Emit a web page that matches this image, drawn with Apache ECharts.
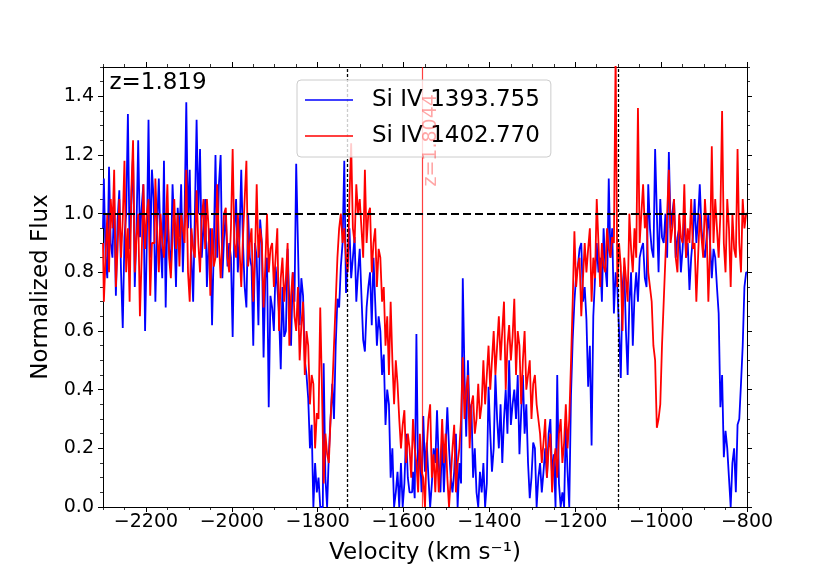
<!DOCTYPE html>
<html>
<head>
<meta charset="utf-8">
<script src="https://cdn.jsdelivr.net/npm/echarts@6/dist/echarts.min.js"></script>
<style>
html,body{margin:0;padding:0;background:#fff;}
#chart{width:830px;height:570px;}
</style>
</head>
<body>
<div id="chart"></div>
<script>
// velocity grid of the spectrum (km/s)
const velStart = -2300;
const velStep = 4;

// Si IV 1393.755 normalized flux
const fluxSi1393 = [
  0.95, 1.12, 0.85, 0.78, 1.16, 0.9, 0.85, 1.05, 0.72, 0.98, 1.08, 0.8, 0.61, 0.92, 1.0,
  1.34, 0.88, 1.05, 1.2, 0.75, 0.95, 1.25, 0.92, 1.02, 1.1, 0.6, 0.9, 1.32, 0.85, 1.15,
  1.05, 0.7, 0.95, 1.12, 0.9, 0.78, 1.18, 0.68, 1.0, 0.88, 0.82, 1.1, 0.95, 0.75, 1.02,
  0.92, 1.1, 0.8, 1.0, 1.38, 0.95, 1.15, 0.85, 0.7, 1.0, 1.32, 1.0, 1.22, 0.85, 0.95,
  1.05, 0.75, 0.9, 0.95, 0.62, 0.88, 1.2, 0.85, 1.1, 1.2, 0.78, 0.92, 1.0, 0.82, 0.9,
  0.85, 0.58, 0.95, 1.05, 0.8, 0.92, 1.15, 0.9, 0.75, 0.68, 1.0, 0.85, 0.82, 0.55, 0.9,
  0.85, 0.62, 0.98, 0.9, 0.51, 0.78, 0.85, 0.34, 0.72, 0.68, 0.6, 0.82, 0.75, 0.66, 0.47,
  0.75, 0.58, 0.6, 0.88, 0.7, 0.55, 0.8, 0.7, 1.17, 0.9, 0.62, 0.78, 0.72, 0.5, 0.45,
  0.37, 0.2, 0.28, 0.0, 0.15, 0.05, 0.1, 0.0, 0.0, 0.49, 0.1, 0.0, 0.18, 0.3, 0.42,
  0.3, 0.55, 0.71, 0.68, 0.82, 0.9, 1.18, 0.73, 0.85, 0.95, 0.78, 0.85, 0.92, 0.7, 0.8,
  0.88, 0.72, 0.57, 0.53, 0.68, 0.75, 0.8, 0.62, 0.85, 0.7, 0.55, 0.65, 0.6, 0.45, 0.52,
  0.28, 0.4, 0.35, 0.1, 0.2, 0.0, 0.05, 0.12, 0.0, 0.15, 0.0, 0.08, 0.25, 0.1, 0.05,
  0.05, 0.12, 0.03, 0.59, 0.1, 0.2, 0.05, 0.31, 0.12, 0.22, 0.1, 0.0, 0.08, 0.2, 0.15,
  0.33, 0.15, 0.05, 0.25, 0.05, 0.2, 0.34, 0.2, 0.1, 0.05, 0.12, 0.25, 0.0, 0.15, 0.08,
  0.78, 0.45, 0.24, 0.5, 0.3, 0.35, 0.1, 0.2, 0.05, 0.0, 0.12, 0.05, 0.15, 0.0, 0.08,
  0.41, 0.25, 0.12, 0.2, 0.45, 0.3, 0.2, 0.35, 0.15, 0.3, 0.4, 0.25, 0.5, 0.28, 0.35,
  0.4, 0.3, 0.45, 0.18, 0.32, 0.45, 0.25, 0.35, 0.15, 0.03, 0.1, 0.22, 0.2, 0.0, 0.1,
  0.15, 0.05, 0.12, 0.2, 0.1, 0.25, 0.3, 0.1, 0.18, 0.0, 0.45, 0.08, 0.0, 0.05, 0.0,
  0.28, 0.12, 0.0, 0.38, 0.57, 0.7, 0.79, 0.82, 0.88, 0.9, 0.7, 0.75, 0.64, 0.41, 0.55,
  0.21, 0.65, 0.78, 0.9, 0.8, 0.85, 0.7, 0.95, 0.82, 0.75, 1.12, 0.85, 0.95, 0.66, 0.8,
  0.75, 0.6, 0.44, 0.75, 0.82, 0.6, 0.45, 0.7, 0.8, 0.55, 0.72, 0.8, 0.7, 0.85, 0.88,
  0.9, 0.78, 0.75, 1.1, 0.95, 0.88, 0.85, 1.22, 1.0, 0.8, 1.05, 0.92, 0.9, 1.0, 0.85,
  1.21, 0.95, 1.0, 1.05, 0.85, 0.92, 0.95, 0.8, 0.88, 1.0, 0.85, 0.9, 0.74, 0.85, 0.92,
  1.05, 0.9, 0.98, 1.1, 0.95, 0.88, 0.85, 0.92, 1.0, 0.9, 0.78, 0.88, 0.85, 0.75, 0.66,
  0.34, 0.45, 0.17, 0.26, 0.2, 0.1, 0.0, 0.15, 0.2, 0.05, 0.28, 0.3, 0.42, 0.55, 0.75,
  0.8
];

// Si IV 1402.770 normalized flux
const fluxSi1402 = [
  0.9, 0.7, 0.85, 1.0, 0.8, 1.05, 0.95, 1.15, 0.75, 0.88, 1.05, 0.85, 0.98, 1.18, 0.8,
  0.95, 0.7, 1.08, 1.25, 0.8, 0.92, 1.0, 0.65, 0.85, 1.1, 0.88, 1.0, 1.05, 0.72, 0.9,
  0.9, 1.12, 0.95, 0.8, 1.0, 0.9, 0.85, 0.95, 1.1, 0.85, 0.78, 0.92, 1.05, 0.88, 1.0,
  0.82, 1.0, 0.95, 0.9, 1.15, 0.8, 0.7, 0.95, 0.88, 0.85, 1.08, 0.9, 0.8, 0.98, 1.05,
  0.88, 1.05, 0.95, 0.72, 0.95, 0.82, 0.85, 1.1, 0.9, 0.78, 0.9, 1.0, 1.02, 0.85, 0.8,
  0.95, 1.22, 0.9, 0.85, 1.0, 0.88, 0.75, 0.92, 1.05, 1.18, 0.82, 0.9, 0.95, 0.7, 0.85,
  1.1, 0.85, 0.95, 0.9, 0.68, 0.82, 1.0, 0.8, 0.88, 0.9, 0.75, 0.85, 0.95, 0.6, 0.78,
  0.85, 0.7, 0.78, 0.9, 0.55, 0.72, 0.8, 0.65, 0.6, 0.75, 0.5, 0.62, 0.7, 0.45, 0.6,
  0.55, 0.35, 0.45, 0.42, 0.2, 0.32, 0.3, 0.68, 0.4, 0.08, 0.25, 0.18, 0.15, 0.3, 0.4,
  0.55, 0.7, 0.85, 0.95, 1.0, 0.9, 0.95, 0.85, 0.8, 1.05, 1.24, 0.95, 0.9, 1.1, 1.0,
  1.05, 0.95, 0.85, 1.15, 0.9, 1.0, 1.02, 0.8, 0.9, 0.95, 0.75, 0.88, 0.85, 0.7, 0.75,
  0.55, 0.65, 0.45, 0.7, 0.5, 0.35, 0.5, 0.42, 0.3, 0.2, 0.28, 0.33, 0.15, 0.25, 0.2,
  0.1, 0.3, 0.2, 0.15, 0.05, 0.25, 0.12, 0.1, 0.0, 0.2, 0.3, 0.35, 0.1, 0.18, 0.05,
  0.2, 0.05, 0.15, 0.3, 0.15, 0.25, 0.1, 0.0, 0.1, 0.2, 0.28, 0.05, 0.15, 0.2, 0.3,
  0.51, 0.3, 0.4, 0.45, 0.2, 0.35, 0.38, 0.25, 0.3, 0.42, 0.3, 0.35, 0.5, 0.35, 0.45,
  0.55, 0.4, 0.5, 0.6, 0.45, 0.55, 0.65, 0.5, 0.6, 0.7, 0.4, 0.55, 0.62, 0.5, 0.58,
  0.71, 0.45, 0.6, 0.55, 0.35, 0.5, 0.6, 0.4, 0.45, 0.5, 0.3, 0.42, 0.45, 0.35, 0.3,
  0.25, 0.15, 0.22, 0.3, 0.1, 0.2, 0.25, 0.05, 0.15, 0.2, 0.1, 0.25, 0.3, 0.15, 0.22,
  0.35, 0.2, 0.3, 0.49, 0.7, 0.94, 0.75, 0.82, 0.85, 0.65, 0.78, 0.9, 0.8, 0.88, 0.95,
  0.7, 0.85, 0.78, 1.05, 0.9, 0.75, 0.9, 0.82, 0.8, 0.95, 0.88, 0.85, 0.92, 0.9, 1.55,
  0.75, 0.9, 0.82, 0.6, 0.85, 0.78, 0.7, 1.0, 0.88, 0.8, 0.95, 0.85, 1.36, 0.9, 1.0,
  1.1, 0.95, 1.0, 0.8, 0.75, 0.7, 0.55, 0.5, 0.27, 0.3, 0.35, 0.55, 0.7, 0.85, 1.0,
  1.15, 0.9, 0.95, 1.05, 0.85, 0.8, 1.0, 0.92, 0.9, 1.1, 0.85, 0.95, 0.9, 1.05, 0.88,
  0.9, 0.7, 0.85, 1.0, 0.92, 0.85, 1.05, 0.95, 0.7, 0.88, 1.23, 0.9, 1.05, 0.95, 0.85,
  1.0, 1.35, 0.9, 0.8, 1.05, 0.95, 0.75, 1.0, 0.88, 0.85, 1.22, 0.9, 0.8, 1.05, 0.95,
  1.0
];

const seriesNames = ['Si IV 1393.755', 'Si IV 1402.770'];
const xTicks = [-2200, -2000, -1800, -1600, -1400, -1200, -1000, -800];
const yTicks = [0.0, 0.2, 0.4, 0.6, 0.8, 1.0, 1.2, 1.4];
const xRange = [-2300, -800];
const yRange = [0, 1.5];
const componentVel = [-1732, -1100];   // dotted component markers
const zMarkVel = -1557;                // red marker line
const zMarkLabel = 'z=1.8044';
const systemLabel = 'z=1.819';
const continuumLevel = 1.0;

function toPairs(arr) {
  return arr.map((v, i) => [velStart + i * velStep, v]);
}

const FONT = 'DejaVu Sans';
const chart = echarts.init(document.getElementById('chart'), null, {renderer: 'canvas'});

function majorX(pos, show) {
  return {
    type: 'value', min: xRange[0], max: xRange[1], position: pos,
    axisLine: {show: true, onZero: false, lineStyle: {color: '#000', width: 1}},
    axisTick: {show: true, customValues: xTicks, length: 5, lineStyle: {color: '#000', width: 1}},
    axisLabel: {show: show, customValues: xTicks, color: '#000', fontSize: 19, fontFamily: FONT, margin: 6,
      formatter: v => String(v).replace('-', '\u2212')},
    splitLine: {show: false}
  };
}
function minorX(pos) {
  return {
    type: 'value', min: xRange[0], max: xRange[1], interval: 50, position: pos,
    axisLine: {show: false, onZero: false},
    axisTick: {show: true, length: 3, lineStyle: {color: '#000', width: 0.8}},
    axisLabel: {show: false}, splitLine: {show: false}
  };
}
function majorY(pos, show) {
  return {
    type: 'value', min: yRange[0], max: yRange[1], position: pos,
    axisLine: {show: true, onZero: false, lineStyle: {color: '#000', width: 1}},
    axisTick: {show: true, customValues: yTicks, length: 5, lineStyle: {color: '#000', width: 1}},
    axisLabel: {show: show, customValues: yTicks, color: '#000', fontSize: 19, fontFamily: FONT, margin: 9,
      formatter: v => v.toFixed(1)},
    splitLine: {show: false}
  };
}
function minorY(pos) {
  return {
    type: 'value', min: yRange[0], max: yRange[1], interval: 0.05, position: pos,
    axisLine: {show: false, onZero: false},
    axisTick: {show: true, length: 3, lineStyle: {color: '#000', width: 0.8}},
    axisLabel: {show: false}, splitLine: {show: false}
  };
}

const xMain = majorX('bottom', true);
xMain.name = 'Velocity (km s\u207B\u00B9)';
xMain.nameLocation = 'middle';
xMain.nameGap = 35;
xMain.nameTextStyle = {color: '#000', fontSize: 23, fontFamily: FONT};

const yMain = majorY('left', true);
yMain.name = 'Normalized Flux';
yMain.nameLocation = 'middle';
yMain.nameGap = 50;
yMain.nameTextStyle = {color: '#000', fontSize: 23, fontFamily: FONT};

const option = {
  animation: false,
  backgroundColor: '#fff',
  grid: {left: 103, right: 83, top: 67, bottom: 62, containLabel: false},
  xAxis: [xMain, minorX('bottom'), majorX('top', false), minorX('top')],
  yAxis: [yMain, minorY('left'), majorY('right', false), minorY('right')],
  legend: {
    orient: 'vertical', left: 297, top: 80, z: 20,
    padding: [7, 11, 8, 8], itemGap: 10, itemWidth: 48, itemHeight: 1.6,
    backgroundColor: 'rgba(255,255,255,0.8)', borderColor: '#cccccc', borderWidth: 1, borderRadius: 4,
    textStyle: {color: '#000', fontSize: 23, fontFamily: FONT, lineHeight: 26, padding: [0, 0, 0, 14]},
    data: [{name: seriesNames[0], icon: 'rect'}, {name: seriesNames[1], icon: 'rect'}]
  },
  series: [
    {
      name: seriesNames[0], type: 'line', step: 'middle', showSymbol: false, symbol: 'none',
      color: '#0000ff', lineStyle: {color: '#0000ff', width: 1.8}, clip: true, z: 2,
      xAxisIndex: 0, yAxisIndex: 0, data: toPairs(fluxSi1393)
    },
    {
      name: seriesNames[1], type: 'line', step: 'middle', showSymbol: false, symbol: 'none',
      color: '#ff0000', lineStyle: {color: '#ff0000', width: 1.8}, clip: true, z: 3,
      xAxisIndex: 0, yAxisIndex: 0, data: toPairs(fluxSi1402)
    },
    {
      name: 'markers', type: 'line', data: [], z: 4, xAxisIndex: 0, yAxisIndex: 0,
      markLine: {
        silent: true, symbol: ['none', 'none'], label: {show: false}, animation: false,
        data: [
          {xAxis: zMarkVel, lineStyle: {color: 'rgba(255,0,0,0.75)', width: 1.2, type: 'solid'}},
          {xAxis: componentVel[0], lineStyle: {color: '#000', width: 1.3, type: [3, 2]}},
          {xAxis: componentVel[1], lineStyle: {color: '#000', width: 1.3, type: [3, 2]}},
          {yAxis: continuumLevel, lineStyle: {color: '#000', width: 2, type: [8, 4]}}
        ]
      }
    }
  ]
};
chart.setOption(option);

const zPos = chart.convertToPixel({xAxisIndex: 0, yAxisIndex: 0}, [zMarkVel + 22, 1.25]);
const sysPos = chart.convertToPixel({xAxisIndex: 0, yAxisIndex: 0}, [xRange[0] + 15, 1.445]);
chart.setOption({
  graphic: [
    {
      type: 'text', x: zPos[0], y: zPos[1], rotation: Math.PI / 2, z: 30,
      style: {text: zMarkLabel, fill: 'rgba(255,0,0,0.35)', font: '19px "DejaVu Sans"', align: 'center', verticalAlign: 'middle'}
    },
    {
      type: 'text', x: sysPos[0], y: sysPos[1], z: 5,
      style: {text: systemLabel, fill: '#000', font: '23px "DejaVu Sans"', align: 'left', verticalAlign: 'middle'}
    }
  ]
});
</script>
</body>
</html>
